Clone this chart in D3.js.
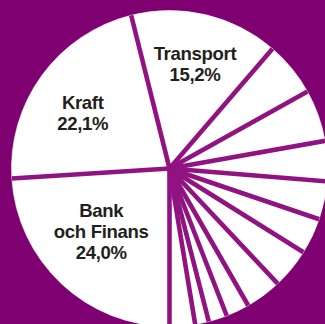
<!DOCTYPE html>
<html>
<head>
<meta charset="utf-8">
<script src="https://cdn.jsdelivr.net/npm/d3@7"></script>
<style>
  html, body { margin: 0; padding: 0; background: #7f0070; overflow: hidden; }
  svg { display: block; }
</style>
</head>
<body>
<svg id="chart" width="325" height="324"></svg>
<script>
// Sector shares of the portfolio, in percent, clockwise from six o'clock
const categories = [
  "Bank och Finans", "Kraft", "Transport",
  "Sektor 4", "Sektor 5", "Sektor 6", "Sektor 7", "Sektor 8", "Sektor 9",
  "Sektor 10", "Sektor 11", "Sektor 12", "Sektor 13", "Sektor 14"
];
const shares = [24.0, 22.1, 15.2, 5.6, 5.3, 4.1, 3.9, 3.7, 4.1, 3.7, 2.4, 1.9, 1.4, 2.6];
// Text lines shown inside the large slices (empty = unlabelled)
const labelLines = [["Bank", "och Finans"], ["Kraft"], ["Transport"]];

const width = 325, height = 324;
const cx = 169.5, cy = 168.5, radius = 158;
const bg = "#7f0070", lineColor = "#901381", textColor = "#231f20";

// Label placement inside each labelled slice: radius and angular nudge (degrees)
const labelPlacement = [
  { r: 93, da: 4.1 },
  { r: 103, da: -3.6 },
  { r: 108, da: 0.3 }
];

const svg = d3.select("#chart");
svg.append("rect").attr("width", width).attr("height", height).attr("fill", bg);

const data = categories.map((c, i) => ({ category: c, value: shares[i] }));

const pie = d3.pie()
  .value(d => d.value)
  .sort(null)
  .startAngle(Math.PI)
  .endAngle(3 * Math.PI);

const arcs = pie(data);
const arc = d3.arc().innerRadius(0).outerRadius(radius);

const g = svg.append("g").attr("transform", `translate(${cx},${cy})`);

// White slices
g.selectAll("path.slice")
  .data(arcs)
  .join("path")
  .attr("class", "slice")
  .attr("d", arc)
  .attr("fill", "#ffffff")
  .attr("stroke", "#ffffff")
  .attr("stroke-width", 0.6);

// Radial separators at every slice boundary
g.selectAll("line.sep")
  .data(arcs)
  .join("line")
  .attr("class", "sep")
  .attr("x1", 0).attr("y1", 0)
  .attr("x2", d => radius * Math.sin(d.startAngle))
  .attr("y2", d => -radius * Math.cos(d.startAngle))
  .attr("stroke", lineColor)
  .attr("stroke-width", 4.6)
  .attr("stroke-linecap", "butt");

// Labels: name lines followed by the share with a decimal comma
const fmt = d3.formatLocale({ decimal: ",", thousands: " ", grouping: [3], currency: ["", " kr"] }).format(".1f");
const lineHeight = 20.8;
const fontSize = 18.6;

arcs.forEach((d, i) => {
  if (i >= labelLines.length) return;
  const place = labelPlacement[i];
  const mid = (d.startAngle + d.endAngle) / 2 + place.da * Math.PI / 180;
  const x = place.r * Math.sin(mid);
  const y = -place.r * Math.cos(mid);
  const lines = labelLines[i].concat([fmt(d.data.value) + "%"]);
  const n = lines.length;
  // vertically centre the block on (x, y) using the cap height
  const firstBaseline = y - (n - 1) * lineHeight / 2 + fontSize * 0.36;
  const t = g.append("text")
    .attr("text-anchor", "middle")
    .attr("font-family", "'Liberation Sans', Arial, Helvetica, sans-serif")
    .attr("font-weight", "bold")
    .attr("font-size", fontSize)
    .attr("letter-spacing", "-0.35px")
    .attr("fill", textColor);
  lines.forEach((s, k) => {
    t.append("tspan")
      .attr("x", x)
      .attr("y", firstBaseline + k * lineHeight)
      .text(s);
  });
});
</script>
</body>
</html>
